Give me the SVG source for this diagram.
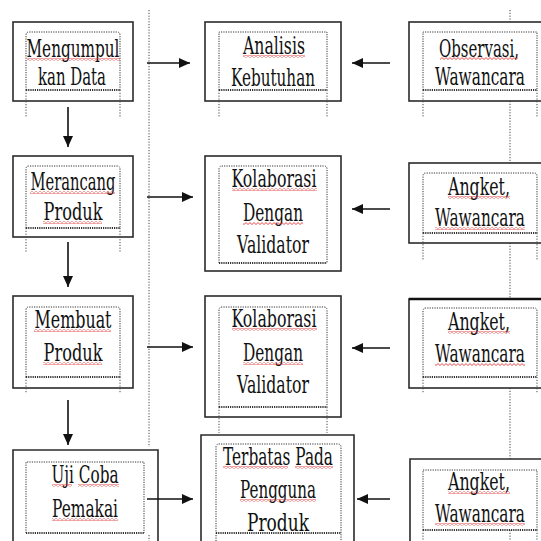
<svg xmlns="http://www.w3.org/2000/svg" width="541" height="541" viewBox="0 0 541 541">
<style>
.o{fill:none;stroke:#2b2b2b;stroke-width:1.6}
.i{fill:none;stroke:#333;stroke-width:1;stroke-dasharray:1.2 1.2}
.ib{fill:none;stroke:#333;stroke-width:2.2;stroke-dasharray:1.2 1}
.d{fill:none;stroke:#444;stroke-width:1;stroke-dasharray:1.2 1.6}
text{font-family:'DejaVu Serif','Liberation Serif',serif;font-size:25px;fill:#111;text-anchor:middle}
.a{stroke:#111;stroke-width:1.6;fill:none;marker-end:url(#ah)}
.w{fill:url(#wave)}
</style>
<defs>
<marker id="ah" markerUnits="userSpaceOnUse" markerWidth="12" markerHeight="10" refX="11" refY="5" orient="auto">
<path d="M0,0 L11,5 L0,10 z" fill="#111"/>
</marker>
<pattern id="wave" patternUnits="userSpaceOnUse" width="4" height="3">
<path d="M0 2.5 L2 0.6 L4 2.5" fill="none" stroke="#e02020" stroke-width="0.8"/>
</pattern>
</defs>
<rect width="541" height="541" fill="#fff"/>

<g id="guides">
<path class="d" d="M149 10 V447 M149 535 V541"/>
<path class="d" d="M510 10 V22 M510 101 V163 M510 243 V299 M510 388 V459 M510 530 V541"/>
</g>

<g id="n1">
<rect class="o" x="13" y="22" width="120" height="79"/>
<path class="i" d="M26 90 V35 Q26 32 29 32 H117 Q120 32 120 35 V90"/>
<path class="ib" d="M26 90 H120"/>
<path class="d" d="M26 90 V118 M120 90 V118"/>
<text x="73" y="57" textLength="93" lengthAdjust="spacingAndGlyphs">Mengumpul</text>
<text x="72" y="85" textLength="68" lengthAdjust="spacingAndGlyphs">kan Data</text>
<rect class="w" x="27" y="58" width="93" height="3"/>
</g>

<g id="n2">
<rect class="o" x="205" y="22" width="136" height="79"/>
<path class="i" d="M219 90 V32 H327 V90"/>
<path class="ib" d="M219 90 H327"/>
<path class="d" d="M219 90 V118 M327 90 V118"/>
<text x="274" y="54" textLength="62" lengthAdjust="spacingAndGlyphs">Analisis</text>
<text x="273" y="86" textLength="84" lengthAdjust="spacingAndGlyphs">Kebutuhan</text>
<rect class="w" x="243" y="55" width="62" height="3"/>
</g>

<g id="n3">
<rect class="o" x="409" y="22" width="150" height="79"/>
<path class="i" d="M423 90 V32 H537 V90"/>
<path class="ib" d="M423 90 H537"/>
<path class="d" d="M423 90 V118 M537 90 V118"/>
<text x="479" y="57" textLength="80" lengthAdjust="spacingAndGlyphs">Observasi,</text>
<text x="480" y="85" textLength="90" lengthAdjust="spacingAndGlyphs">Wawancara</text>
<rect class="w" x="440" y="57" width="78" height="3"/>
</g>

<g id="n4">
<rect class="o" x="13" y="156" width="120" height="81"/>
<path class="i" d="M26 228 V169 Q26 166 29 166 H117 Q120 166 120 169 V228"/>
<path class="ib" d="M26 228 H120"/>
<path class="d" d="M26 228 V253 M120 228 V253"/>
<text x="73" y="190" textLength="85" lengthAdjust="spacingAndGlyphs">Merancang</text>
<text x="73" y="220" textLength="59" lengthAdjust="spacingAndGlyphs">Produk</text>
<rect class="w" x="30" y="191" width="85" height="3"/>
<rect class="w" x="43" y="221" width="59" height="3"/>
</g>

<g id="n5">
<rect class="o" x="205" y="156" width="136" height="115"/>
<path class="i" d="M219 263 V169 Q219 166 222 166 H324 Q327 166 327 169 V263"/>
<path class="ib" d="M219 263 H327"/>
<text x="274" y="187" textLength="85" lengthAdjust="spacingAndGlyphs">Kolaborasi</text>
<text x="273" y="221" textLength="60" lengthAdjust="spacingAndGlyphs">Dengan</text>
<text x="273" y="253" textLength="72" lengthAdjust="spacingAndGlyphs">Validator</text>
<rect class="w" x="232" y="188" width="85" height="3"/>
<rect class="w" x="243" y="222" width="60" height="3"/>
</g>

<g id="n6">
<rect class="o" x="409" y="163" width="150" height="80"/>
<path class="i" d="M423 233 V176 Q423 173 426 173 H534 Q537 173 537 176 V233"/>
<path class="ib" d="M423 233 H537"/>
<path class="d" d="M423 233 V260 M537 233 V260"/>
<text x="479" y="195" textLength="62" lengthAdjust="spacingAndGlyphs">Angket,</text>
<text x="480" y="226" textLength="90" lengthAdjust="spacingAndGlyphs">Wawancara</text>
<rect class="w" x="448" y="196" width="62" height="3"/>
<rect class="w" x="435" y="227" width="90" height="3"/>
</g>

<g id="n7">
<rect class="o" x="13" y="296" width="120" height="92"/>
<path class="i" d="M26 377 V310 Q26 307 29 307 H117 Q120 307 120 310 V377"/>
<path class="ib" d="M26 377 H120"/>
<path class="d" d="M26 377 V393 M120 377 V393"/>
<text x="73" y="328" textLength="77" lengthAdjust="spacingAndGlyphs">Membuat</text>
<text x="73" y="361" textLength="59" lengthAdjust="spacingAndGlyphs">Produk</text>
<rect class="w" x="34" y="329" width="77" height="3"/>
<rect class="w" x="43" y="362" width="59" height="3"/>
</g>

<g id="n8">
<rect class="o" x="205" y="296" width="136" height="121"/>
<path class="i" d="M219 407 V310 Q219 307 222 307 H324 Q327 307 327 310 V407"/>
<path class="ib" d="M219 407 H327"/>
<path class="d" d="M219 407 V433 M327 407 V433"/>
<text x="274" y="327" textLength="85" lengthAdjust="spacingAndGlyphs">Kolaborasi</text>
<text x="273" y="361" textLength="60" lengthAdjust="spacingAndGlyphs">Dengan</text>
<text x="273" y="393" textLength="72" lengthAdjust="spacingAndGlyphs">Validator</text>
<rect class="w" x="232" y="328" width="85" height="3"/>
<rect class="w" x="243" y="362" width="60" height="3"/>
</g>

<g id="n9">
<rect class="o" x="409" y="299" width="150" height="89"/>
<path d="M409 299 H541" stroke="#111" stroke-width="2.4"/>
<path class="i" d="M423 377 V311 Q423 308 426 308 H534 Q537 308 537 311 V377"/>
<path class="ib" d="M423 377 H537"/>
<path class="d" d="M423 377 V393 M537 377 V393"/>
<text x="479" y="330" textLength="62" lengthAdjust="spacingAndGlyphs">Angket,</text>
<text x="480" y="362" textLength="90" lengthAdjust="spacingAndGlyphs">Wawancara</text>
<rect class="w" x="448" y="331" width="62" height="3"/>
<rect class="w" x="435" y="363" width="90" height="3"/>
</g>

<g id="n10">
<path class="o" d="M13 541 V450 H158 V541"/>
<path class="i" d="M26 533 V462 H144 V533"/>
<path class="ib" d="M26 533 H144"/>
<text x="85" y="483" textLength="67" lengthAdjust="spacingAndGlyphs">Uji Coba</text>
<text x="85" y="517" textLength="66" lengthAdjust="spacingAndGlyphs">Pemakai</text>
<rect class="w" x="52" y="484" width="20" height="3"/>
<rect class="w" x="78" y="484" width="41" height="3"/>
<rect class="w" x="52" y="518" width="66" height="3"/>
</g>

<g id="n11">
<path class="o" d="M201 541 V435 H354 V541"/>
<path class="i" d="M216 541 V447 Q216 444 219 444 H338 Q341 444 341 447 V541"/>
<text x="278" y="465" textLength="110" lengthAdjust="spacingAndGlyphs">Terbatas Pada</text>
<text x="278" y="498" textLength="76" lengthAdjust="spacingAndGlyphs">Pengguna</text>
<text x="278" y="531" textLength="62" lengthAdjust="spacingAndGlyphs">Produk</text>
<rect x="217" y="533" width="123" height="8" fill="#fff"/>
<path class="ib" d="M216 533 H341"/>
<rect class="w" x="223" y="466" width="65" height="3"/>
<rect class="w" x="295" y="466" width="38" height="3"/>
<rect class="w" x="240" y="499" width="76" height="3"/>
</g>

<g id="n12">
<path class="o" d="M410 541 V459 H541"/>
<path class="i" d="M423 530 V470 H537 V530"/>
<path class="ib" d="M423 530 H537"/>
<path class="d" d="M423 530 V541 M537 530 V541"/>
<text x="479" y="490" textLength="62" lengthAdjust="spacingAndGlyphs">Angket,</text>
<text x="480" y="522" textLength="90" lengthAdjust="spacingAndGlyphs">Wawancara</text>
<rect class="w" x="448" y="491" width="62" height="3"/>
<rect class="w" x="435" y="523" width="90" height="3"/>
</g>

<g id="connectors">
<path class="a" d="M68 107 V147"/>
<path class="a" d="M68 242 V287"/>
<path class="a" d="M68 400 V445"/>
<path class="a" d="M147 63 H190"/>
<path class="a" d="M147 197 H193"/>
<path class="a" d="M147 347 H193"/>
<path class="a" d="M147 499 H193"/>
<path class="a" d="M390 63 H352"/>
<path class="a" d="M390 209 H352"/>
<path class="a" d="M390 348 H352"/>
<path class="a" d="M390 499 H357"/>
</g>
</svg>
